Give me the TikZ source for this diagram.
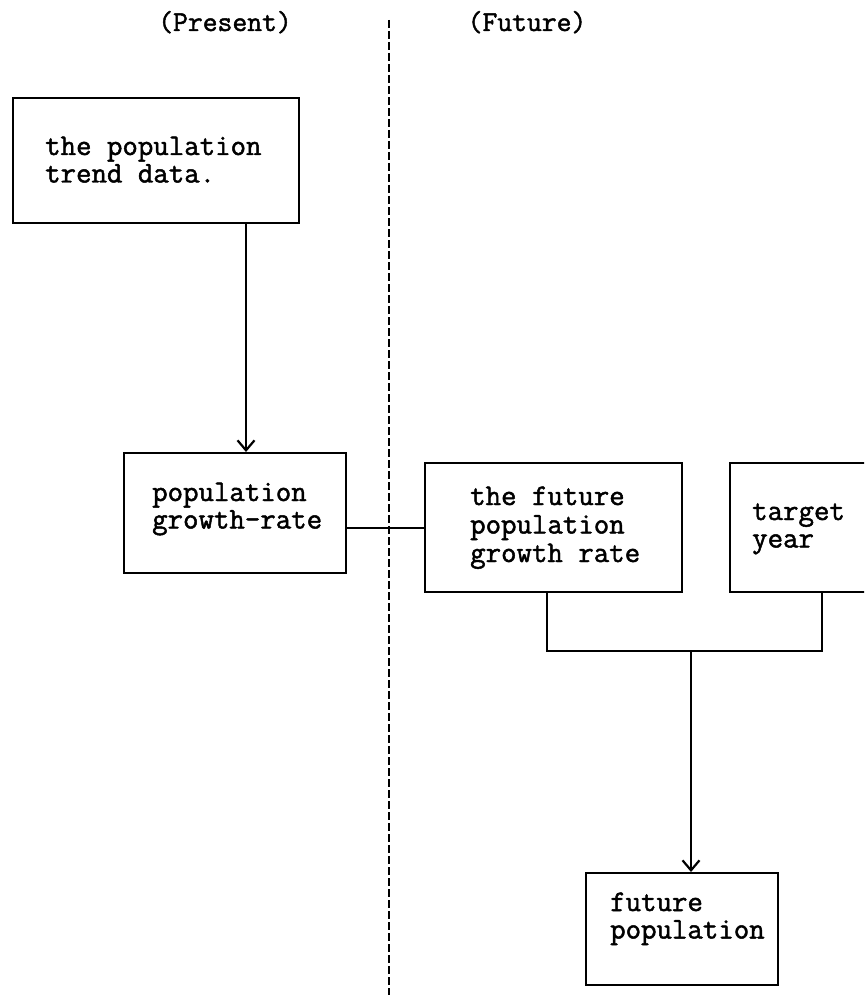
\documentclass[tikz,border=0pt]{standalone}
\usepackage{fontspec}
\setmonofont[FakeBold=1.6]{Latin Modern Mono}
\usetikzlibrary{arrows.meta}

% left-aligned block of lines whose baseline is the first line
\newcommand\boxlines[1]{\begin{tabular}[t]{@{}l@{}}#1\end{tabular}}

\tikzset{
  frame/.style={draw, line width=2.2pt, rectangle, inner sep=0pt, anchor=north west},
  label/.style={font=\ttfamily\fontsize{30}{27.5}\selectfont, inner sep=0pt, anchor=base west},
  head/.style={font=\ttfamily\fontsize{28.8}{28}\selectfont, inner sep=0pt, anchor=base},
  wire/.style={line width=2.2pt},
  flow/.style={wire, -{Straight Barb[length=10pt,width=17pt]}},
  divider/.style={line width=2.4pt, dash pattern=on 8pt off 3pt}
}

\begin{document}
\begin{tikzpicture}[x=1pt, y=-1pt]
\useasboundingbox (0,0) rectangle (864,995);
\clip (0,0) rectangle (864,995);

% column headings and the dividing line between present and future
\node[head] (present) at (225,31) {(Present)};
\node[head] (future) at (527,31) {(Future)};
\coordinate (divtop) at (389,20);
\coordinate (divbot) at (389,995);
\draw[divider] (divtop) -- (divbot);

% boxes
\node[frame, minimum width=286pt, minimum height=125pt] (trend) at (12,97) {};
\node[label] (trendtxt) at (45,155) {\boxlines{the population\\trend data.}};

\node[frame, minimum width=222pt, minimum height=120pt] (growth) at (123,452) {};
\node[label] (growthtxt) at (152,501) {\boxlines{population\\growth-rate}};

\node[frame, minimum width=257pt, minimum height=129pt] (rate) at (424,462) {};
\node[label, font=\ttfamily\fontsize{30}{28.5}\selectfont] (ratetxt) at (470,505) {\boxlines{the future\\population\\growth rate}};

\node[frame, minimum width=200pt, minimum height=129pt] (target) at (729,462) {};
\node[label] (targettxt) at (752,520) {\boxlines{target\\year}};

\node[frame, minimum width=192pt, minimum height=112pt] (result) at (585,872) {};
\node[label] (resulttxt) at (610,911) {\boxlines{future\\population}};

% connectors
\coordinate (down1) at (246,0);
\draw[flow] (trend.south -| down1) -- (growth.north -| down1);
\draw[wire] (growth.east |- rate.west) -- (rate.west);

\coordinate (jl) at (547,651);
\coordinate (jr) at (822,651);
\coordinate (jm) at (691,651);
\draw[wire] (rate.south -| jl) -- (jl) -- (jr) -- (target.south -| jr);
\draw[flow] (jm) -- (result.north -| jm);
\end{tikzpicture}
\end{document}
